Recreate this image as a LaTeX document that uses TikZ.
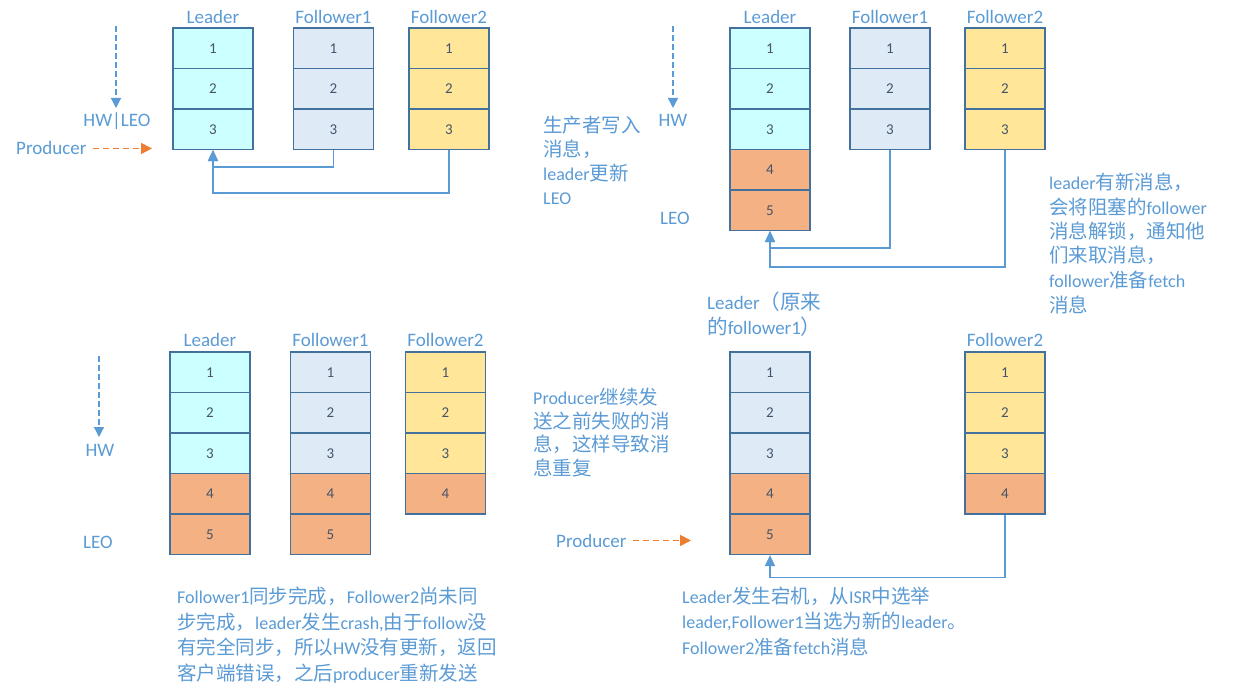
\documentclass[tikz,border=0pt]{standalone}
\usepackage{fontspec}
\setmainfont{Carlito}
\newfontfamily\cjk{Noto Sans CJK SC}[Scale=1.083]
\newcommand\zh[1]{{\cjk #1}}
\usetikzlibrary{arrows.meta}
\definecolor{bord}{HTML}{41719C}
\definecolor{digc}{HTML}{44546A}
\definecolor{txtc}{HTML}{5B9BD5}
\definecolor{linec}{HTML}{5B9BD5}
\definecolor{orc}{HTML}{ED7D31}
\definecolor{lc}{HTML}{CCFFFF}
\definecolor{fc}{HTML}{DEEBF7}
\definecolor{yc}{HTML}{FFE699}
\definecolor{oc}{HTML}{F4B183}
\tikzset{
 cell/.style={draw=bord,line width=1.2pt,minimum width=80pt,minimum height=40.5pt,inner sep=0pt,text=digc,font=\fontsize{15}{18}\selectfont},
 lab/.style={anchor=base,inner sep=0pt,text=txtc,font=\fontsize{19}{23}\selectfont},
 labw/.style={anchor=base west,inner sep=0pt,text=txtc,font=\fontsize{19}{23}\selectfont},
 note/.style={anchor=base west,inner sep=0pt,text=txtc,font=\fontsize{18}{24}\selectfont},
 conn/.style={draw=linec,line width=1.5pt,-{Triangle[width=10pt,length=11pt]}},
 hwarr/.style={draw=linec,line width=1.3pt,dash pattern=on 6pt off 3pt,-{Triangle[width=10pt,length=10pt]}},
 prodarr/.style={draw=orc,line width=1.5pt,dash pattern=on 6pt off 4pt,-{Triangle[width=11pt,length=11pt]}},
}
\begin{document}
\begin{tikzpicture}[x=1pt,y=-1pt]
\useasboundingbox[fill=white] (0,0) rectangle (1250,700);
% ---------- Panel 1 ----------
\node[lab] (aLl) at (213,24) {Leader};
\node[lab] (aAl) at (333.5,24) {Follower1};
\node[lab] (aBl) at (449,24) {Follower2};
\foreach \i/\c in {1/lc,2/lc,3/lc} \node[cell,fill=\c] (aL\i) at (213,{7.75+40.5*\i}) {\i};
\foreach \i/\c in {1/fc,2/fc,3/fc} \node[cell,fill=\c] (aA\i) at (333.5,{7.75+40.5*\i}) {\i};
\foreach \i/\c in {1/yc,2/yc,3/yc} \node[cell,fill=\c] (aB\i) at (449,{7.75+40.5*\i}) {\i};
\node[lab] (aHW) at (117,127) {HW|LEO};
\coordinate (aHs) at (116,26);
\coordinate (aHe) at (116,108);
\draw[hwarr] (aHs) -- (aHe);
\node[labw] (aP) at (16,155) {Producer};
\coordinate (aPe) at (152,148);
\draw[prodarr,shorten <=6pt] (aP.east) -- (aP.east -| aPe);
\draw[conn] (aA3.south) -- ++(0,17) -| (aL3.south);
\draw[conn] (aB3.south) -- ++(0,43) -| (aL3.south);
% ---------- Panel 2 ----------
\node[lab] (bLl) at (770,24) {Leader};
\node[lab] (bAl) at (890,24) {Follower1};
\node[lab] (bBl) at (1005,24) {Follower2};
\foreach \i/\c in {1/lc,2/lc,3/lc,4/oc,5/oc} \node[cell,fill=\c] (bL\i) at (770,{7.75+40.5*\i}) {\i};
\foreach \i/\c in {1/fc,2/fc,3/fc} \node[cell,fill=\c] (bA\i) at (890,{7.75+40.5*\i}) {\i};
\foreach \i/\c in {1/yc,2/yc,3/yc} \node[cell,fill=\c] (bB\i) at (1005,{7.75+40.5*\i}) {\i};
\node[lab] (bHW) at (673,127) {HW};
\node[lab] (bLEO) at (675,225) {LEO};
\coordinate (bHs) at (673,26);
\coordinate (bHe) at (673,108);
\draw[hwarr] (bHs) -- (bHe);
\node[note] (bt1) at (543,133) {\zh{生产者写入}};
\node[note] (bt2) at (543,157) {\zh{消息，}};
\node[note] (bt3) at (543,181) {leader\zh{更新}};
\node[note] (bt4) at (543,205) {LEO};
\draw[conn] (bA3.south) -- ++(0,98) -| (bL5.south);
\draw[conn] (bB3.south) -- ++(0,117) -| (bL5.south);
\node[note] (bu1) at (1049,190) {leader\zh{有新消息，}};
\node[note] (bu2) at (1049,215) {\zh{会将阻塞的}follower};
\node[note] (bu3) at (1049,239) {\zh{消息解锁，通知他}};
\node[note] (bu4) at (1049,263) {\zh{们来取消息，}};
\node[note] (bu5) at (1049,288) {follower\zh{准备}fetch};
\node[note] (bu6) at (1049,313) {\zh{消息}};
% ---------- Panel 3 ----------
\node[lab] (cLl) at (210,347) {Leader};
\node[lab] (cAl) at (330.5,347) {Follower1};
\node[lab] (cBl) at (445.5,347) {Follower2};
\foreach \i/\c in {1/lc,2/lc,3/lc,4/oc,5/oc} \node[cell,fill=\c] (cL\i) at (210,{331.75+40.5*\i}) {\i};
\foreach \i/\c in {1/fc,2/fc,3/fc,4/oc,5/oc} \node[cell,fill=\c] (cA\i) at (330.5,{331.75+40.5*\i}) {\i};
\foreach \i/\c in {1/yc,2/yc,3/yc,4/oc} \node[cell,fill=\c] (cB\i) at (445.5,{331.75+40.5*\i}) {\i};
\node[lab] (cHW) at (100,456) {HW};
\node[lab] (cLEO) at (98,548) {LEO};
\coordinate (cHs) at (99,356);
\coordinate (cHe) at (99,437);
\draw[hwarr] (cHs) -- (cHe);
\node[note] (ct1) at (177,603) {Follower1\zh{同步完成，}Follower2\zh{尚未同}};
\node[note] (ct2) at (177,629) {\zh{步完成，}leader\zh{发生}crash,\zh{由于}follow\zh{没}};
\node[note] (ct3) at (177,654) {\zh{有完全同步，所以}HW\zh{没有更新，返回}};
\node[note] (ct4) at (177,680) {\zh{客户端错误，之后}producer\zh{重新发送}};
% ---------- Panel 4 ----------
\node[labw] (dLl1) at (707,310) {Leader\zh{（原来}};
\node[labw] (dLl2) at (707,335) {\zh{的}follower1\zh{）}};
\node[lab] (dBl) at (1005,347) {Follower2};
\foreach \i/\c in {1/fc,2/fc,3/fc,4/oc,5/oc} \node[cell,fill=\c] (dL\i) at (770,{331.75+40.5*\i}) {\i};
\foreach \i/\c in {1/yc,2/yc,3/yc,4/oc} \node[cell,fill=\c] (dB\i) at (1005,{331.75+40.5*\i}) {\i};
\node[note] (dt1) at (533,404) {Producer\zh{继续发}};
\node[note] (dt2) at (533,428) {\zh{送之前失败的消}};
\node[note] (dt3) at (533,451) {\zh{息，这样导致消}};
\node[note] (dt4) at (533,475) {\zh{息重复}};
\node[labw] (dP) at (556,547) {Producer};
\coordinate (dPe) at (691,540);
\draw[prodarr,shorten <=6pt] (dP.east) -- (dP.east -| dPe);
\draw[conn] (dB4.south) -- ++(0,63) -| (dL5.south);
\node[note] (du1) at (682,603) {Leader\zh{发生宕机，从}ISR\zh{中选举}};
\node[note] (du2) at (682,628) {leader,Follower1\zh{当选为新的}leader\zh{。}};
\node[note] (du3) at (682,654) {Follower2\zh{准备}fetch\zh{消息}};
\end{tikzpicture}
\end{document}
